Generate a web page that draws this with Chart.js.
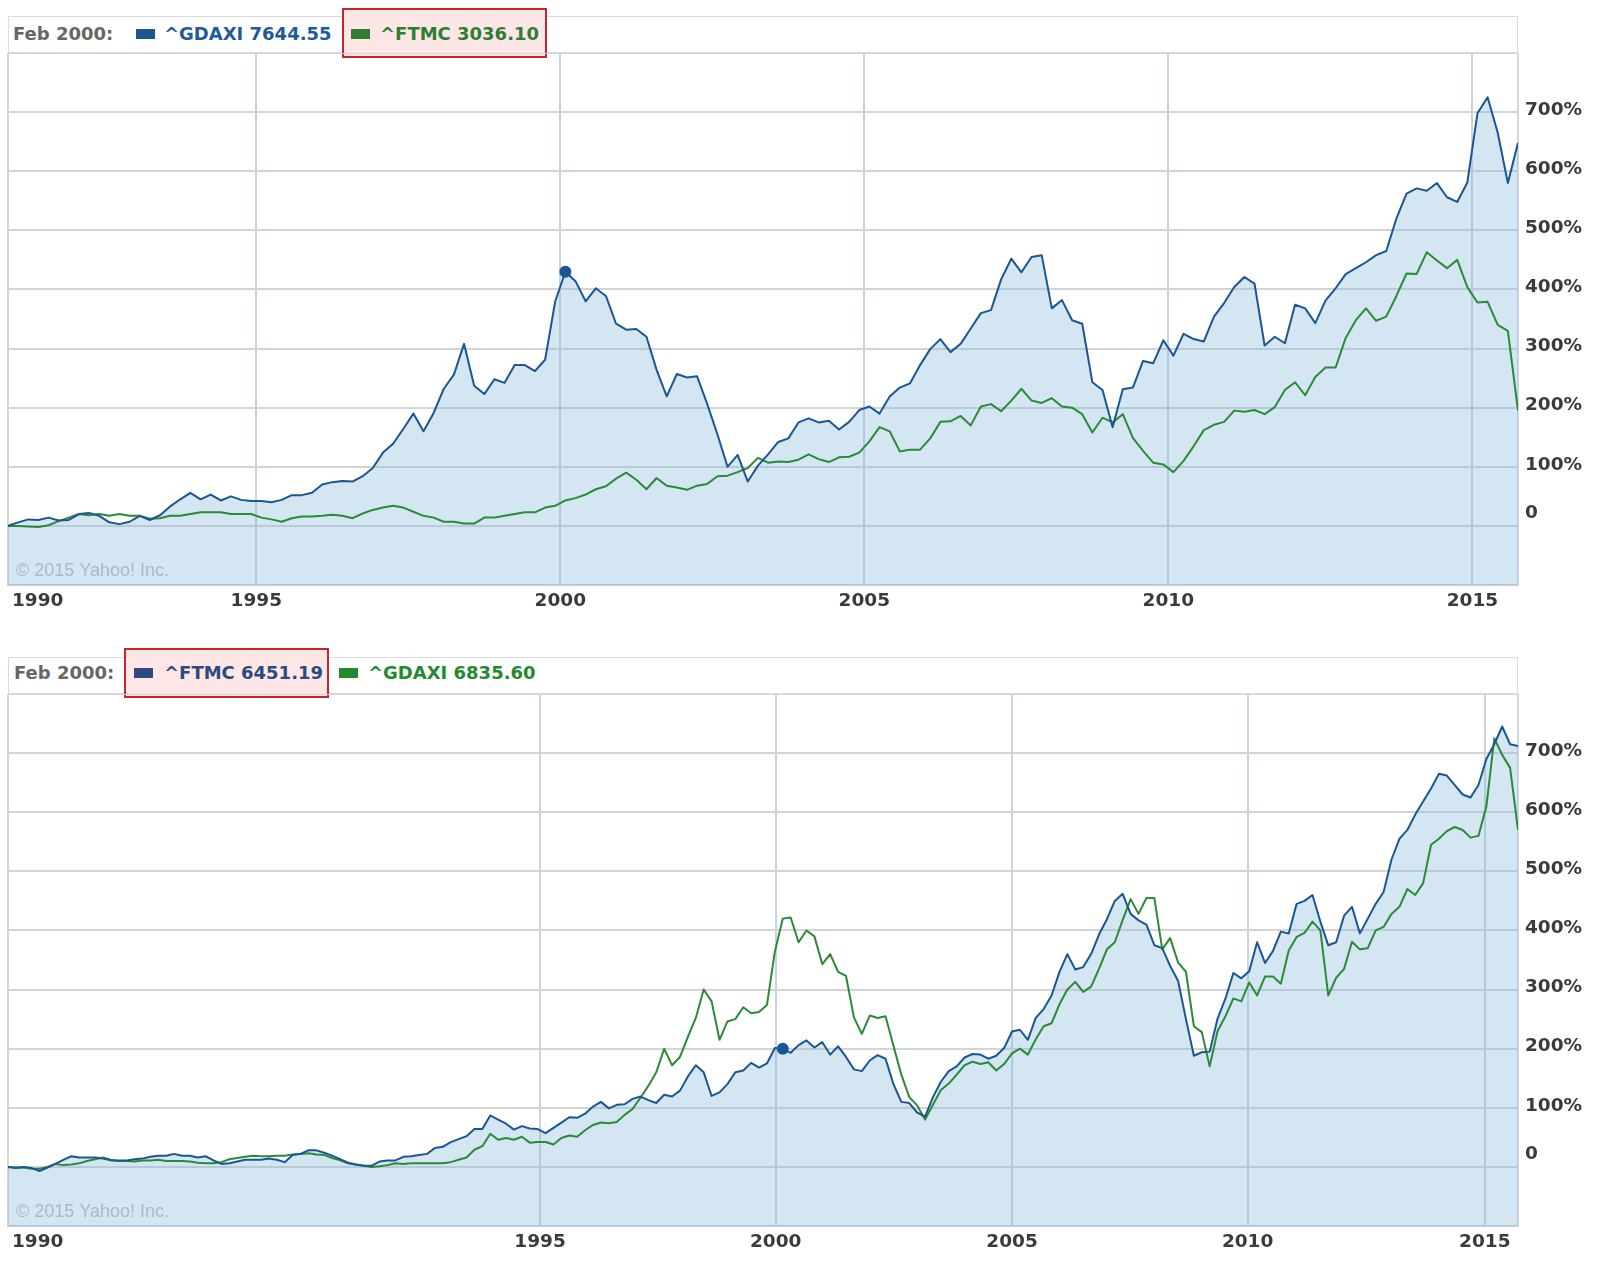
<!DOCTYPE html>
<html>
<head>
<meta charset="utf-8">
<script src="https://cdn.jsdelivr.net/npm/chart.js@4.4.1/dist/chart.umd.min.js"></script>
<style>
  html, body { margin: 0; padding: 0; background: #fff; }
  body { width: 1604px; height: 1262px; position: relative; overflow: hidden; font-family: "DejaVu Sans", Verdana, sans-serif; }
  .hdr { position: absolute; left: 8px; width: 1508px; height: 35px; border: 1px solid #dcdcdc; background: #fff; }
  .box { position: absolute; width: 201px; height: 46px; border: 2px solid #c2272d; background: #fce6e6; }
  .lbl { position: absolute; font-weight: bold; font-size: 18px; line-height: 20px; white-space: nowrap; }
  .sq { position: absolute; width: 19px; height: 10px; }
  canvas { position: absolute; left: 0; }
</style>
</head>
<body>

<div class="hdr" style="top:16px"></div>
<div class="box" style="left:342px; top:8px"></div>
<div class="lbl" style="left:13px; top:24px; color:#666">Feb 2000:</div>
<div class="sq" style="left:136px; top:29px; background:#1f5590"></div>
<div class="lbl" style="left:164px; top:24px; color:#1f5a99">^GDAXI 7644.55</div>
<div class="sq" style="left:351px; top:29px; background:#2e7d32"></div>
<div class="lbl" style="left:380px; top:24px; color:#2e7d32">^FTMC 3036.10</div>
<canvas id="chart-top" width="1604" height="570" style="top:53px"></canvas>

<div class="hdr" style="top:657px"></div>
<div class="box" style="left:124px; top:648px"></div>
<div class="lbl" style="left:14px; top:663px; color:#666">Feb 2000:</div>
<div class="sq" style="left:134px; top:668px; background:#2c4a80"></div>
<div class="lbl" style="left:164px; top:663px; color:#2c4a80">^FTMC 6451.19</div>
<div class="sq" style="left:339px; top:668px; background:#22892f"></div>
<div class="lbl" style="left:368px; top:663px; color:#22892f">^GDAXI 6835.60</div>
<canvas id="chart-bottom" width="1604" height="568" style="top:694px"></canvas>

<script>
// % change, top chart: one value every two months, Dec 1990 .. Oct 2015
const topDax = [
  0, 6, 11, 10, 14, 9, 10, 20, 22, 17,
  6, 3, 7, 17, 10, 18, 33, 45, 56, 45,
  53, 43, 50, 44, 42, 42, 40, 44, 52, 52,
  56, 70, 74, 76, 75, 84, 98, 124, 139, 164,
  190, 160, 191, 232, 256, 308, 237, 223, 248, 242,
  272, 272, 262, 281, 380, 430, 414, 380, 402, 389,
  342, 332, 333, 320, 264, 219, 257, 251, 253, 206,
  155, 100, 120, 75, 102, 121, 142, 148, 175, 182,
  175, 178, 163, 176, 196, 202, 190, 219, 234, 241,
  272, 299, 316, 294, 308, 334, 360, 365, 417, 452,
  429, 455, 458, 368, 382, 348, 342, 243, 230, 167,
  231, 234, 279, 275, 314, 288, 325, 316, 312, 354,
  377, 404, 421, 410, 305, 320, 309, 374, 368, 343,
  381, 402, 426, 436, 446, 458, 465, 520, 562, 571,
  567, 580, 556, 548, 581, 698, 725, 665, 580, 648
];
const topFtmc = [
  0, 0, -1, -2, 1, 8, 14, 20, 18, 20,
  17, 20, 17, 17, 12, 13, 17, 17, 20, 23,
  23, 23, 20, 20, 20, 14, 11, 7, 13, 16,
  16, 17, 19, 17, 13, 21, 27, 31, 34, 31,
  24, 17, 14, 7, 7, 4, 4, 14, 14, 17,
  20, 23, 23, 31, 34, 43, 47, 53, 62, 67,
  80, 90, 78, 62, 81, 68, 65, 61, 68, 71,
  84, 85, 91, 98, 115, 107, 109, 108, 112, 121,
  113, 108, 116, 117, 124, 143, 167, 160, 126, 129,
  129, 148, 176, 177, 186, 170, 202, 206, 194, 212,
  232, 212, 208, 216, 202, 200, 189, 158, 183, 175,
  189, 149, 127, 107, 104, 91, 110, 135, 162, 171,
  176, 195, 193, 196, 189, 201, 230, 243, 221, 252,
  268, 268, 318, 348, 368, 347, 354, 389, 427, 426,
  463, 449, 436, 450, 404, 378, 379, 340, 330, 195
];
const topTickLabels = ['1990', '1995', '2000', '2005', '2010', '2015'];
const topTickIndex = [0, 24.5, 54.5, 84.5, 114.5, 144.5];
const topMarkIndex = 55; // Feb 2000

// bottom chart: Yahoo spaces the points evenly, so the years before 1995 are stretched
const bottomFtmc = [
  0, -2, 0, -2, -7, -1, 5, 12, 18, 16,
  16, 16, 14, 11, 11, 11, 13, 14, 17, 19,
  19, 22, 19, 19, 16, 18, 11, 5, 6, 9,
  12, 12, 12, 14, 12, 8, 20, 22, 28, 28,
  24, 19, 13, 7, 4, 2, 2, 9, 11, 11,
  17, 18, 20, 22, 32, 34, 42, 47, 52, 64,
  64, 87, 80, 73, 63, 69, 65, 64, 57, 66,
  75, 84, 83, 90, 102, 110, 99, 105, 106, 115,
  119, 113, 108, 122, 119, 129, 153, 172, 160, 120,
  126, 140, 160, 163, 176, 168, 175, 201, 200, 193,
  206, 214, 202, 211, 190, 204, 186, 165, 162, 180,
  189, 183, 140, 110, 108, 92, 85, 118, 144, 162,
  170, 185, 191, 190, 183, 188, 201, 229, 232, 215,
  252, 267, 290, 330, 360, 334, 338, 360, 393, 419,
  450, 462, 428, 417, 410, 375, 370, 340, 315, 250,
  188, 194, 195, 251, 285, 328, 319, 331, 380, 345,
  365, 398, 395, 445, 450, 460, 415, 375, 380, 425,
  440, 395, 420, 445, 465, 520, 555, 570, 596, 618,
  640, 665, 662, 646, 630, 625, 646, 690, 715, 745,
  715, 712
];
const bottomDax = [
  0, -1, -1, -3, -3, 0, 5, 3, 4, 6,
  10, 13, 16, 12, 10, 10, 9, 11, 11, 12,
  10, 10, 10, 9, 7, 6, 6, 8, 13, 15,
  17, 19, 18, 18, 19, 19, 21, 22, 23, 21,
  20, 15, 11, 6, 4, 2, 0, 1, 3, 6,
  5, 6, 6, 6, 6, 6, 8, 12, 16, 29,
  35, 56, 46, 49, 46, 51, 41, 42, 42, 38,
  49, 53, 51, 62, 71, 75, 74, 76, 88, 98,
  117, 137, 160, 200, 172, 186, 220, 252, 300, 280,
  215, 246, 250, 270, 260, 262, 274, 364, 420, 422,
  380, 400, 390, 343, 360, 330, 323, 253, 225, 256,
  252, 255, 205, 156, 118, 104, 80, 105, 130, 141,
  156, 172, 178, 174, 177, 163, 174, 192, 200, 190,
  216, 238, 243, 275, 300, 313, 296, 305, 335, 368,
  380, 418, 453, 428, 455, 455, 368, 387, 346, 330,
  238, 228, 170, 230, 255, 285, 280, 312, 290, 322,
  322, 310, 366, 389, 396, 415, 400, 290, 320, 335,
  381, 368, 370, 400, 406, 428, 440, 470, 460, 480,
  545, 555, 568, 575, 570, 557, 560, 610, 725, 697,
  675, 570
];
const bottomTickLabels = ['1990', '1995', '2000', '2005', '2010', '2015'];
const bottomTickIndex = [0, 67.3, 97.1, 127.0, 156.8, 186.8];
const bottomMarkIndex = 98; // Feb 2000

const yTickValues = [0, 100, 200, 300, 400, 500, 600, 700];

const BLUE = '#1b5694';
const GREEN = '#2a8a38';
const FILL = 'rgba(132,184,218,0.35)';

const labelPlugin = {
  id: 'yahooLabels',
  afterDraw(chart, args, opts) {
    const { ctx, chartArea } = chart;
    const x = chart.scales.x;
    const y = chart.scales.y;
    ctx.save();
    ctx.font = 'bold 18.5px "DejaVu Sans"';
    ctx.fillStyle = '#3b3b3b';
    ctx.textBaseline = 'middle';
    ctx.textAlign = 'left';
    yTickValues.forEach((v) => {
      const py = y.getPixelForValue(v) - (v === 0 ? 13 : 2);
      ctx.fillText(v === 0 ? '0' : v + '%', chartArea.right + 7, py);
    });
    opts.ticks.forEach((t, i) => {
      const px = x.getPixelForValue(t);
      ctx.textAlign = i === 0 ? 'left' : 'center';
      ctx.fillText(opts.labels[i], i === 0 ? px + 4 : px, chartArea.bottom + 16);
    });
    ctx.font = '18px "Liberation Sans"';
    ctx.fillStyle = '#a9bac7';
    ctx.textAlign = 'left';
    ctx.fillText('\u00a9 2015 Yahoo! Inc.', chartArea.left + 8, chartArea.bottom - 14);
    ctx.restore();
  }
};

function makeChart(id, blueVals, greenVals, tickIdx, tickLabels, markIdx) {
  const pts = (vals) => vals.map((v, i) => ({ x: i, y: v }));
  const canvas = document.getElementById(id);

  return new Chart(canvas, {
    type: 'line',
    data: {
      datasets: [
        {
          data: pts(blueVals),
          borderColor: BLUE,
          borderWidth: 2,
          pointRadius: (c) => (c.dataIndex === markIdx ? 6 : 0),
          pointBackgroundColor: BLUE,
          pointBorderWidth: 0,
          fill: false,
          order: 1,
        },
        {
          data: pts(greenVals),
          borderColor: GREEN,
          borderWidth: 2,
          pointRadius: 0,
          fill: false,
          order: 2,
        },
        {
          data: pts(blueVals),
          borderWidth: 0,
          borderColor: 'rgba(0,0,0,0)',
          backgroundColor: FILL,
          pointRadius: 0,
          fill: 'start',
          order: 3,
        },
      ],
    },
    options: {
      responsive: false,
      animation: false,
      devicePixelRatio: 1,
      layout: { padding: { left: 8, top: 0, right: 0, bottom: 0 } },
      elements: { line: { tension: 0, borderJoinStyle: 'round' } },
      plugins: {
        legend: { display: false },
        tooltip: { enabled: false },
        yahooLabels: { ticks: tickIdx, labels: tickLabels },
      },
      scales: {
        x: {
          type: 'linear',
          min: 0,
          max: blueVals.length - 1,
          afterBuildTicks: (s) => { s.ticks = tickIdx.map((v) => ({ value: v })); },
          afterFit: (s) => { s.height = canvas.height - 532; },
          ticks: { display: false },
          grid: {
            drawTicks: false,
            lineWidth: 2,
            color: (c) => (c.index === 0 ? '#d6d6d6' : '#c8d4de'),
          },
          border: { display: true, color: '#c3d2df', width: 2 },
        },
        y: {
          position: 'right',
          min: -100,
          max: 800,
          ticks: { display: false, stepSize: 100 },
          afterFit: (s) => { s.width = 86; },
          grid: {
            drawTicks: false,
            lineWidth: 2,
            color: (c) => (c.tick.value === -100 ? 'rgba(0,0,0,0)' : '#d4d4d4'),
          },
          border: { display: true, color: '#d0d8e0', width: 2 },
        },
      },
    },
    plugins: [labelPlugin],
  });
}

makeChart('chart-top', topDax, topFtmc, topTickIndex, topTickLabels, topMarkIndex);
makeChart('chart-bottom', bottomFtmc, bottomDax, bottomTickIndex, bottomTickLabels, bottomMarkIndex);
</script>
</body>
</html>
